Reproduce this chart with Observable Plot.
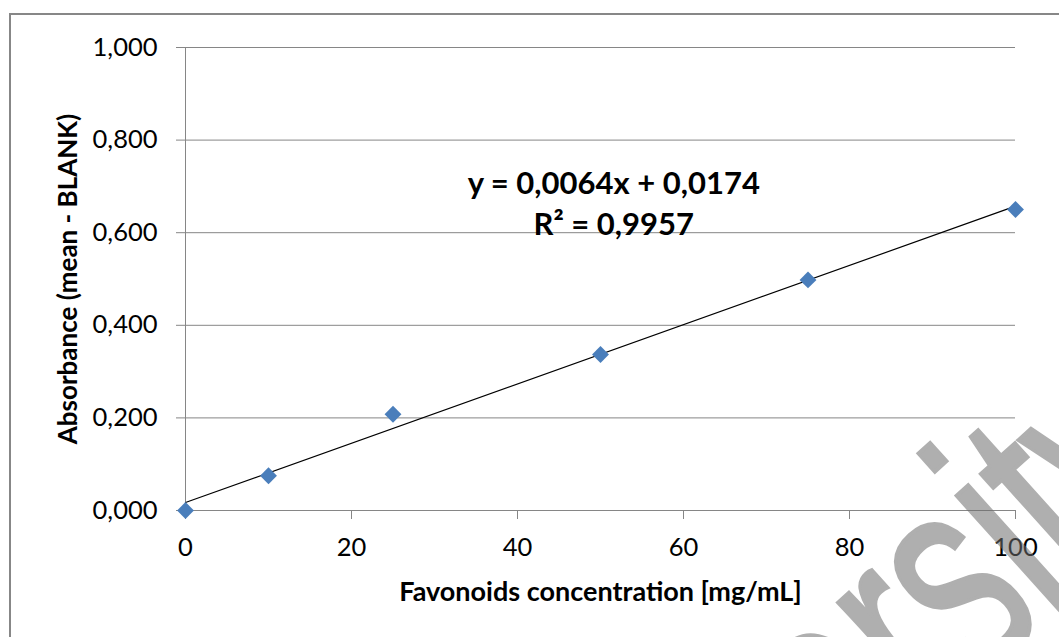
<!DOCTYPE html>
<html>
<head>
<meta charset="utf-8">
<script src="https://cdn.jsdelivr.net/npm/d3@7"></script>
<script src="https://cdn.jsdelivr.net/npm/@observablehq/plot@0.6"></script>
<style>
  html, body { margin: 0; padding: 0; background: #fff; overflow: hidden; width: 1059px; height: 637px; }
  #frame { position: absolute; left: 9px; top: 13px; width: 1200px; height: 800px; border: 2px solid #878787; box-sizing: border-box; }
  #chart { position: absolute; left: 0; top: 0; }
  #chart g[aria-label="x-axis label"] text { font-weight: bold; font-size: 27px; }
  #chart g[aria-label="y-axis label"] text { font-weight: bold; font-size: 26px; }
  #wm { position: absolute; left: 0; top: 0; pointer-events: none; }
</style>
</head>
<body>
<div id="frame"></div>
<div id="chart"></div>
<svg id="wm" width="1059" height="637"></svg>
<script>
// Data
const concentration = [0, 10, 25, 50, 75, 100];
const absorbance = [0.000, 0.075, 0.208, 0.337, 0.498, 0.650];
const xTicks = [0, 20, 40, 60, 80, 100];
const yTicks = [0, 0.2, 0.4, 0.6, 0.8, 1.0];
const equationText = ["y = 0,0064x + 0,0174", "R² = 0,9957"];
const xLabel = "Favonoids concentration [mg/mL]";
const yLabel = "Absorbance (mean - BLANK)";
const watermarkText = "University";

const rows = concentration.map((c, i) => ({c, a: absorbance[i]}));
const commaFmt = d => d3.format(".3f")(d).replace(".", ",");

const chart = Plot.plot({
  width: 1059,
  height: 637,
  marginLeft: 185,
  marginRight: 44,
  marginTop: 47,
  marginBottom: 127,
  style: {fontFamily: "Lato, sans-serif", fontSize: "25.5px", color: "#000", background: "transparent", overflow: "visible"},
  x: {domain: [0, 100]},
  y: {domain: [0, 1]},
  marks: [
    Plot.gridY(yTicks, {stroke: "#868686", strokeOpacity: 1, strokeWidth: 1}),
    Plot.ruleX([0], {stroke: "#868686", strokeWidth: 1}),
    Plot.ruleY([0], {stroke: "#868686", strokeWidth: 1}),
    Plot.axisY(yTicks, {tickSize: 9, tickPadding: 19, tickFormat: commaFmt, stroke: "#868686", fill: "#000",
      label: yLabel, labelAnchor: "center", labelOffset: 127, labelArrow: "none"}),
    Plot.axisX(xTicks, {tickSize: 9, tickPadding: 18, stroke: "#868686", fill: "#000",
      label: xLabel, labelAnchor: "center", labelOffset: 90, labelArrow: "none"}),
    Plot.linearRegressionY(rows, {x: "c", y: "a", stroke: "#000", strokeWidth: 1.2, ci: 0}),
    Plot.dot(rows, {x: "c", y: "a", symbol: "diamond2", r: 7.6, fill: "#4a7ebb", stroke: "none"}),
    Plot.text([equationText.join("\n")], {x: 51.6, y: 0.668, text: d => d, fontSize: 31, fontWeight: "bold", lineHeight: 1.32, fill: "#000"})
  ]
});
document.getElementById("chart").appendChild(chart);

// Watermark: condensed sans text, rotated, placed so the "i" of "rsity" sits where the reference shows it
const wm = d3.select("#wm");
const fs = 290, sx = 0.66, ang = -42;
const wmText = wm.append("text")
  .attr("font-family", "Liberation Sans, sans-serif")
  .attr("font-size", fs)
  .attr("fill", "#6e6e6e")
  .attr("stroke", "#6e6e6e")
  .attr("stroke-width", 4)
  .attr("stroke-linejoin", "miter")
  .attr("opacity", 0.55)
  .text(watermarkText);
const ext = wmText.node().getExtentOfChar(7);
const px = (ext.x + ext.width / 2) * sx, py = -0.67 * fs;
const a = ang * Math.PI / 180;
const rx = px * Math.cos(a) - py * Math.sin(a), ry = px * Math.sin(a) + py * Math.cos(a);
wmText.attr("transform", `translate(${935 - rx},${460 - ry}) rotate(${ang}) scale(${sx},1)`);
</script>
</body>
</html>
